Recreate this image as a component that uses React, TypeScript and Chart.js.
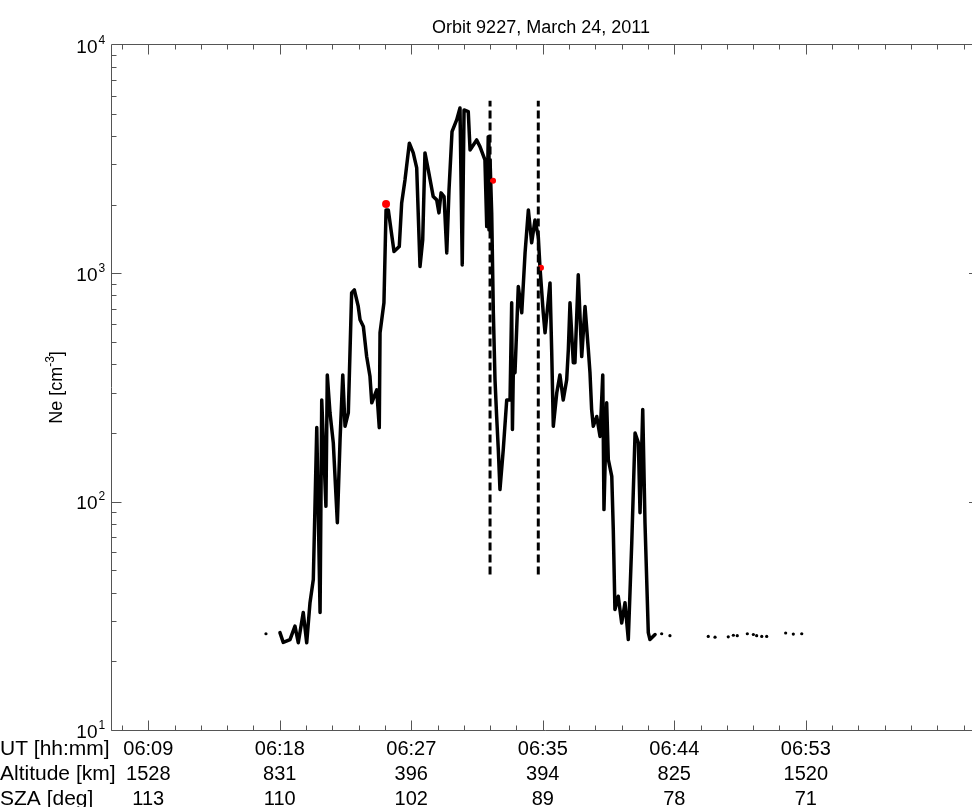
import React, { useEffect, useRef } from "react";
import { Chart, registerables } from "chart.js";

Chart.register(...registerables);

const TITLE = "Orbit 9227, March 24, 2011";
const Y_TITLE_MAIN = "Ne [cm";
const Y_TITLE_SUP = "-3";
const Y_TITLE_END = "]";

// Ne trace: x = UT minutes after 06:00, y = electron density [cm^-3]
const traceUt = [
  17.96, 18.18, 18.63, 18.96, 19.18, 19.51, 19.74, 19.96, 20.18, 20.41, 20.63, 20.74, 21.02, 21.11, 21.29, 21.51,
  21.78, 21.96, 22.14, 22.29, 22.51, 22.73, 22.91, 23.17, 23.29, 23.51, 23.73, 23.95, 24.07, 24.4, 24.57, 24.62,
  24.88, 25.02, 25.17, 25.55, 25.9, 26.06, 26.28, 26.57, 26.83, 27.06, 27.28, 27.46, 27.61, 27.83, 28.16, 28.39,
  28.54, 28.68, 28.88, 29.06, 29.21, 29.41, 29.72, 29.94, 30.09, 30.21, 30.49, 30.61, 31.05, 31.27, 31.6, 31.72,
  31.82, 31.87, 31.94, 32.05, 32.16, 32.27, 32.38, 32.49, 32.6, 32.82, 33.05, 33.27, 33.38, 33.43, 33.49, 33.6,
  33.82, 34.05, 34.27, 34.49, 34.71, 34.93, 35.15, 35.26, 35.48, 35.6, 35.93, 36.04, 36.15, 36.38, 36.59, 36.81,
  37.04, 37.15, 37.26, 37.48, 37.59, 37.81, 38.04, 38.26, 38.48, 38.59, 38.7, 38.81, 39.04, 39.26, 39.44, 39.52,
  39.7, 39.81, 40.04, 40.14, 40.25, 40.47, 40.7, 40.92, 41.14, 41.37, 41.59, 41.81, 41.92, 42.1, 42.25, 42.47,
  42.58, 42.92,
];
const traceNe = [
  26.7, 24.2, 24.9, 28.5, 24.1, 32.7, 24.1, 36.1, 45.6, 211, 32.7, 279, 95.4, 359, 245, 181,
  80.9, 187, 359, 214, 245, 821, 847, 716, 626, 585, 432, 354, 271, 309, 211, 549,
  743, 1896, 1896, 1246, 1310, 2035, 2566, 3713, 3369, 2894, 1071, 1402, 3369, 2838, 2168, 2098,
  1840, 2251, 2168, 1229, 2320, 4175, 4697, 5300, 1089, 5194, 5106, 3471, 3838, 3588, 3139, 1602,
  3969, 1550, 3139, 1840, 672, 342, 236, 169, 113, 169, 279, 279, 743, 207, 378, 367,
  875, 672, 1229, 1896, 1360, 1714, 1449, 1071, 672, 549, 908, 463, 214, 300, 359, 279,
  342, 463, 743, 406, 406, 985, 432, 716, 463, 367, 253, 214, 236, 193, 359, 92.3,
  271, 153, 129, 75.4, 33.7, 38.5, 29.4, 36.1, 24.9, 66.2, 200, 181, 89.5, 253, 80.9, 26.7,
  24.9, 26.2,
];

// isolated samples (small dots)
const dotUt = [17.03, 43.36, 43.91, 46.46, 46.91, 47.79, 48.13, 48.39, 49.06, 49.46, 49.68, 50.02, 50.35, 51.61, 52.12, 52.68];
const dotNe = [26.4, 26.4, 25.9, 25.7, 25.5, 25.6, 26.0, 25.9, 26.4, 26.2, 25.9, 25.7, 25.7, 26.6, 26.3, 26.4];

// red markers
const markUt = [25.02, 32.14, 35.33];
const markNe = [2014, 2541, 1057];
const markRadius = [4, 3, 3];

// dashed vertical boundaries
const boundaryUt = [31.94, 35.15];
const boundaryNeLow = 48;
const boundaryNeHigh = 5700;

// x axis
const X_MIN = 6.765;
const X_MAX = 64.475;
const xMajorUt = [9.2, 17.95, 26.7, 35.45, 44.2, 52.95];
const X_MINOR_STEP = 1.75;
const utLabels = ["06:09", "06:18", "06:27", "06:35", "06:44", "06:53"];
const altLabels = ["1528", "831", "396", "394", "825", "1520"];
const szaLabels = ["113", "110", "102", "89", "78", "71"];
const rowTitles = ["UT [hh:mm]", "Altitude [km]", "SZA [deg]"];

// y axis
const yDecades = [1, 2, 3, 4];
const Y_MIN = 10;
const Y_MAX = 10000;

const FONT = "'Liberation Sans', Arial, sans-serif";

const decorPlugin = {
  id: "decor",
  afterDraw(chart: any) {
    const { ctx, chartArea, scales } = chart;
    const xs = scales.x;
    const ys = scales.y;
    const L = Math.floor(chartArea.left) + 0.5;
    const R = chartArea.right;
    const T = Math.floor(chartArea.top) - 0.5;
    const B = Math.floor(chartArea.bottom) + 0.5;
    ctx.save();
    ctx.strokeStyle = "#555";
    ctx.lineWidth = 1;
    ctx.beginPath();
    ctx.moveTo(R, T);
    ctx.lineTo(L, T);
    ctx.lineTo(L, B);
    ctx.lineTo(R, B);
    ctx.stroke();

    // x ticks
    ctx.beginPath();
    const eps = 1e-6;
    for (let v = xMajorUt[0]; v <= X_MAX + eps; v += X_MINOR_STEP) {
      const px = Math.round(xs.getPixelForValue(v)) + 0.5;
      const major = xMajorUt.some((m) => Math.abs(m - v) < 0.01);
      const len = major ? 10 : 5;
      ctx.moveTo(px, B);
      ctx.lineTo(px, B - len);
      ctx.moveTo(px, T);
      ctx.lineTo(px, T + len);
    }
    for (let v = xMajorUt[0] - X_MINOR_STEP; v >= X_MIN - eps; v -= X_MINOR_STEP) {
      const px = Math.round(xs.getPixelForValue(v)) + 0.5;
      ctx.moveTo(px, B);
      ctx.lineTo(px, B - 5);
      ctx.moveTo(px, T);
      ctx.lineTo(px, T + 5);
    }
    // y ticks
    for (let d = yDecades[0]; d < yDecades[yDecades.length - 1]; d++) {
      for (let k = 1; k <= 9; k++) {
        const v = k * Math.pow(10, d);
        const py = Math.round(ys.getPixelForValue(v)) + 0.5;
        const len = k === 1 ? 10 : 5;
        ctx.moveTo(L, py);
        ctx.lineTo(L + len, py);
        ctx.moveTo(R, py);
        ctx.lineTo(R - len, py);
      }
    }
    ctx.stroke();

    // y tick labels
    ctx.fillStyle = "#000";
    for (const d of yDecades) {
      const py = ys.getPixelForValue(Math.pow(10, d));
      ctx.font = `19px ${FONT}`;
      ctx.textAlign = "right";
      ctx.textBaseline = "alphabetic";
      ctx.fillText("10", 97.5, py + 7.5);
      ctx.font = `12px ${FONT}`;
      ctx.textAlign = "left";
      ctx.fillText(String(d), 98.5, py - 1.5);
    }

    // bottom rows
    const rows = [utLabels, altLabels, szaLabels];
    const baselines = [754.5, 780, 805];
    rows.forEach((labels, r) => {
      ctx.font = `21px ${FONT}`;
      ctx.textAlign = "left";
      ctx.fillText(rowTitles[r], 0, baselines[r]);
      ctx.font = `20px ${FONT}`;
      ctx.textAlign = "center";
      labels.forEach((lab, i) => {
        ctx.fillText(lab, xs.getPixelForValue(xMajorUt[i]), baselines[r]);
      });
    });

    // title
    ctx.font = `18px ${FONT}`;
    ctx.textAlign = "center";
    ctx.fillText(TITLE, 541, 33);

    // y title (rotated)
    ctx.save();
    ctx.translate(61.5, (chartArea.top + chartArea.bottom) / 2);
    ctx.rotate(-Math.PI / 2);
    ctx.font = `18px ${FONT}`;
    const w1 = ctx.measureText(Y_TITLE_MAIN).width;
    ctx.font = `12px ${FONT}`;
    const w2 = ctx.measureText(Y_TITLE_SUP).width;
    ctx.font = `18px ${FONT}`;
    const w3 = ctx.measureText(Y_TITLE_END).width;
    const total = w1 + w2 + w3;
    const x0 = -total / 2;
    ctx.textAlign = "left";
    ctx.fillText(Y_TITLE_MAIN, x0, 0);
    ctx.font = `12px ${FONT}`;
    ctx.fillText(Y_TITLE_SUP, x0 + w1, -8);
    ctx.font = `18px ${FONT}`;
    ctx.fillText(Y_TITLE_END, x0 + w1 + w2, 0);
    ctx.restore();

    ctx.restore();
  },
};

export default function App() {
  const canvasRef = useRef<HTMLCanvasElement | null>(null);

  useEffect(() => {
    const canvas = canvasRef.current;
    if (!canvas) return;
    const n = Math.min(traceUt.length, traceNe.length);
    const trace = [];
    for (let i = 0; i < n; i++) trace.push({ x: traceUt[i], y: traceNe[i] });
    const dots = dotUt.map((u, i) => ({ x: u, y: dotNe[i] }));
    const marks = markUt.map((u, i) => ({ x: u, y: markNe[i] }));

    const datasets: any[] = boundaryUt.map((u) => ({
      data: [
        { x: u, y: boundaryNeLow },
        { x: u, y: boundaryNeHigh },
      ],
      showLine: true,
      borderColor: "#000",
      borderWidth: 3,
      borderDash: [8, 4],
      pointRadius: 0,
      pointHoverRadius: 0,
      order: 0,
    }));
    datasets.push({
      data: marks,
      showLine: false,
      backgroundColor: "#ff0000",
      borderWidth: 0,
      pointRadius: markRadius,
      pointHoverRadius: 0,
      order: 1,
    });
    datasets.push({
      data: trace,
      showLine: true,
      borderColor: "#000",
      borderWidth: 3.5,
      borderJoinStyle: "round",
      borderCapStyle: "round",
      pointRadius: 0,
      pointHoverRadius: 0,
      order: 2,
    });
    datasets.push({
      data: dots,
      showLine: false,
      backgroundColor: "#000",
      borderWidth: 0,
      pointRadius: 1.6,
      pointHoverRadius: 0,
      order: 3,
    });

    const chart = new Chart(canvas, {
      type: "scatter",
      data: { datasets },
      options: {
        animation: false,
        responsive: false,
        maintainAspectRatio: false,
        events: [],
        layout: { autoPadding: false, padding: { top: 45, right: 1, left: 0, bottom: 0 } },
        plugins: {
          legend: { display: false },
          tooltip: { enabled: false },
          title: { display: false },
        },
        scales: {
          x: {
            type: "linear",
            min: X_MIN,
            max: X_MAX,
            grid: { display: false },
            border: { display: false },
            ticks: { display: false },
            afterFit: (s: any) => {
              s.height = 77;
            },
          },
          y: {
            type: "logarithmic",
            min: Y_MIN,
            max: Y_MAX,
            grid: { display: false },
            border: { display: false },
            ticks: { display: false },
            afterFit: (s: any) => {
              s.width = 111.7;
            },
          },
        },
      } as any,
      plugins: [decorPlugin],
    });
    return () => chart.destroy();
  }, []);

  return (
    <div
      style={{
        position: "fixed",
        left: 0,
        top: 0,
        width: 972,
        height: 807,
        overflow: "hidden",
        background: "#fff",
      }}
    >
      <canvas ref={canvasRef} width={980} height={807} style={{ width: 980, height: 807, display: "block" }} />
    </div>
  );
}
